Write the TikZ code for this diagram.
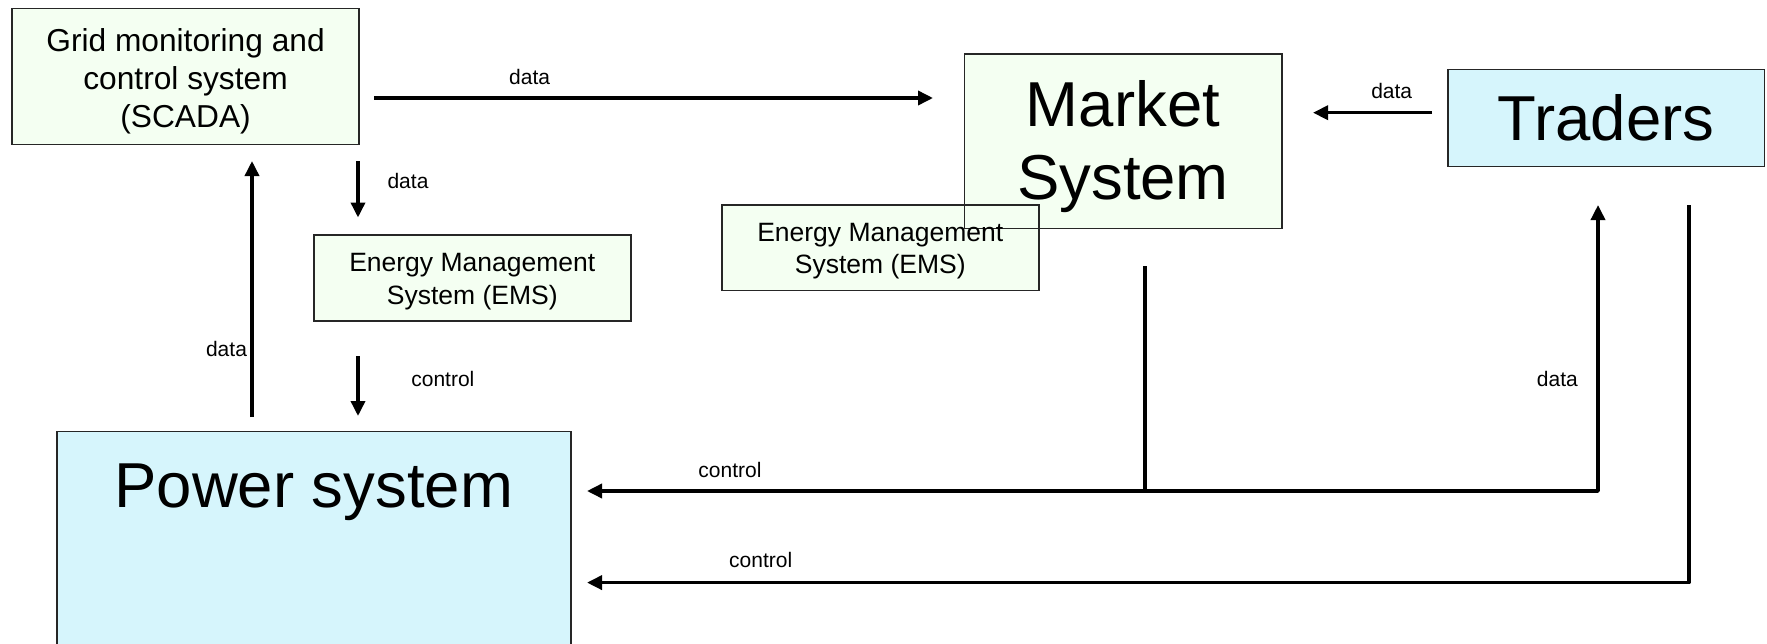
\documentclass[tikz,border=0pt]{standalone}
\usepackage{fontspec}
\setmainfont{Liberation Sans}
\usetikzlibrary{arrows.meta,backgrounds}
\definecolor{boxgreen}{RGB}{244,255,242}
\definecolor{boxcyan}{RGB}{214,245,252}
\begin{document}
\begin{tikzpicture}[x=1pt,y=-1pt,
  box/.style={draw=black!85, line width=1.5pt, inner sep=0pt, align=center, anchor=north west},
  tip/.tip={Triangle[length=15pt,width=14pt]},
  ln/.style={line width=3.5pt},
  arr/.style={ln, -tip},
  lbl/.style={font=\fontsize{21}{25}\selectfont, inner sep=0pt},
  big/.style={font=\fontsize{63.5}{73}\selectfont},
  mid/.style={font=\fontsize{31.7}{38}\selectfont},
  ems/.style={font=\fontsize{26.5}{32.7}\selectfont},
]
\useasboundingbox (0,0) rectangle (1767,643);
\clip (0,0) rectangle (1767,643);

% boxes
\node[box, fill=boxgreen, mid, minimum width=347pt, minimum height=136pt] (scada) at (11.3,7.9)
  {\rule{0pt}{35pt}Grid monitoring and\\control system\\(SCADA)\rule[-10pt]{0pt}{10pt}};
\node[box, fill=boxgreen, big, minimum width=317.5pt, minimum height=174.6pt] (market) at (963.5,53)
  {\rule{0pt}{63pt}Market\\System\rule[-20pt]{0pt}{20pt}};
\node[box, fill=boxcyan, big, minimum width=316.6pt, minimum height=97pt] (traders) at (1447,68.7)
  {Traders};
\node[box, fill=boxgreen, ems, minimum width=317pt, minimum height=86pt] (ems1) at (313,234)
  {\rule{0pt}{29pt}Energy Management\\System (EMS)\rule[-9pt]{0pt}{9pt}};
\node[box, ems, minimum width=317pt, minimum height=85.6pt] (ems2) at (721,204)
  {\rule{0pt}{29pt}Energy Management\\System (EMS)\rule[-9pt]{0pt}{9pt}};
\begin{pgfonlayer}{background}
  \fill[boxgreen] (ems2.south west) rectangle (ems2.north east);
\end{pgfonlayer}
\node[box, fill=boxcyan, big, minimum width=514pt, text height=76pt, text depth=190pt] (power) at (56,430.5)
  {Power system};

% connector end points
\coordinate (a1) at (374,98);     \coordinate (a2) at (933,98);
\coordinate (b1) at (1432,112.7); \coordinate (b2) at (1313,112.7);
\coordinate (c1) at (358,161);    \coordinate (c2) at (358,217.5);
\coordinate (d1) at (252,417);    \coordinate (d2) at (252,161);
\coordinate (e1) at (358,356);    \coordinate (e2) at (358,416);
\coordinate (m1) at (1145,266);   \coordinate (m2) at (1145,491);
\coordinate (p1) at (587,491);    \coordinate (j1) at (1598,491);  \coordinate (t1) at (1598,205);
\coordinate (t2) at (1689,205);   \coordinate (j2) at (1689,582.6); \coordinate (p2) at (587,582.6);

% connectors
\draw[arr] (a1) -- (a2);
\draw[arr] (b1) -- (b2);
\draw[arr] (c1) -- (c2);
\draw[arr] (d1) -- (d2);
\draw[arr] (e1) -- (e2);
\draw[ln] (m1) -- (m2);
\draw[ln, tip-tip, line join=round] (p1) -- (j1) -- (t1);
\draw[arr, line join=round] (t2) -- (j2) -- (p2);

% labels
\node[lbl] (l1) at (529.6,76.6) {data};
\node[lbl] (l2) at (1391.7,91.3) {data};
\node[lbl] (l3) at (408,181.4) {data};
\node[lbl] (l4) at (226.5,349.3) {data};
\node[lbl] (l5) at (442.9,378.6) {control};
\node[lbl] (l6) at (730,470) {control};
\node[lbl] (l7) at (1557.4,378.6) {data};
\node[lbl] (l8) at (760.7,560) {control};
\end{tikzpicture}
\end{document}
